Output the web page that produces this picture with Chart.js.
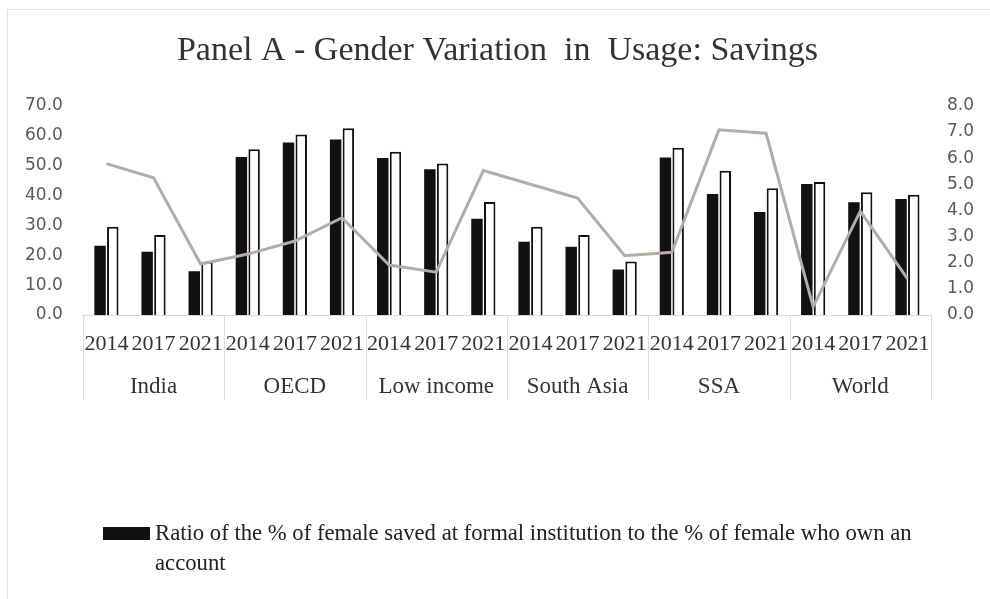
<!DOCTYPE html>
<html>
<head>
<meta charset="utf-8">
<script src="https://cdn.jsdelivr.net/npm/chart.js@4.4.1/dist/chart.umd.min.js"></script>
<style>
  html, body { margin: 0; padding: 0; background: #fff; }
  #wrap { position: relative; width: 990px; height: 599px; overflow: hidden; }
  #frame { position: absolute; left: 7px; top: 9px; width: 1000px; height: 600px;
           border-left: 1px solid #e2e2e2; border-top: 1px solid #e2e2e2; box-sizing: border-box; }
  canvas { position: absolute; left: 0; top: 0; }
  #legend { position: absolute; left: 103px; top: 518px; font-family: "Liberation Serif", serif;
            font-size: 22.7px; color: #222; line-height: 30px; }
  #legend .box { position: absolute; left: 0; top: 9px; width: 47px; height: 13px; background: #111; }
  #legend .txt { margin-left: 52px; white-space: nowrap; }
  #legend .txt2 { margin-left: 52px; }
</style>
</head>
<body>
<div id="wrap">
  <div id="frame"></div>
  <canvas id="c" width="990" height="599"></canvas>
  <div id="legend"><div class="box"></div><div class="txt">Ratio of the % of female saved at formal institution to the % of female who own an</div><div class="txt2">account</div></div>
</div>
<script>
const years = ['2014','2017','2021'];
const groups = ['India','OECD','Low income','South Asia','SSA','World'];
const yearLabels = ['2014','2017','2021','2014','2017','2021','2014','2017','2021','2014','2017','2021','2014','2017','2021','2014','2017','2021'];
const femaleSaved = [23.2, 21.2, 14.6, 52.9, 57.7, 58.7, 52.5, 48.8, 32.2, 24.5, 22.8, 15.2, 52.7, 40.5, 34.5, 43.8, 37.7, 38.8];
const maleSaved = [29.5, 26.8, 17.8, 55.5, 60.4, 62.5, 54.6, 50.7, 37.8, 29.5, 26.8, 17.9, 56.0, 48.3, 42.4, 44.5, 41.1, 40.2];
const gapRatio = [5.79, 5.25, 1.95, 2.33, 2.83, 3.72, 1.91, 1.64, 5.52, 5.0, 4.47, 2.27, 2.4, 7.08, 6.95, 0.31, 3.97, 1.39];
const leftTicks = [0, 10, 20, 30, 40, 50, 60, 70];
const rightTicks = [0, 1, 2, 3, 4, 5, 6, 7, 8];

const separators = {
  id: 'separators',
  afterDraw(chart) {
    const x = chart.scales.x, x2 = chart.scales.x2;
    const ctx = chart.ctx;
    ctx.save();
    ctx.strokeStyle = '#dcdcdc';
    ctx.lineWidth = 1;
    for (let g = 0; g <= groups.length; g++) {
      const px = Math.round(x.getPixelForValue(g * years.length - 0.5)) + 0.5;
      ctx.beginPath();
      ctx.moveTo(px, chart.chartArea.bottom);
      ctx.lineTo(px, x2.bottom - 1);
      ctx.stroke();
    }
    ctx.restore();
  }
};

new Chart(document.getElementById('c'), {
  data: {
    labels: yearLabels,
    datasets: [
      { type: 'line', label: 'Gap', data: gapRatio, yAxisID: 'y1', xAxisID: 'x',
        borderColor: '#b3aca7', borderWidth: 3, pointRadius: 0, tension: 0, order: 0 },
      { type: 'bar', label: 'Ratio of the % of female saved at formal institution to the % of female who own an account',
        data: femaleSaved, yAxisID: 'y', xAxisID: 'x', backgroundColor: '#111', borderColor: '#111', borderWidth: 0,
        categoryPercentage: 0.54, barPercentage: 0.9, order: 1 },
      { type: 'bar', label: 'Male', data: maleSaved, yAxisID: 'y', xAxisID: 'x',
        backgroundColor: '#fff', borderColor: '#111', borderWidth: 2,
        categoryPercentage: 0.54, barPercentage: 0.9, order: 1 }
    ]
  },
  options: {
    responsive: false,
    animation: false,
    layout: { padding: { left: 5, right: 0, top: 0, bottom: 198 } },
    plugins: {
      legend: { display: false },
      tooltip: { enabled: false },
      title: { display: true, text: 'Panel A - Gender Variation  in  Usage: Savings',
        font: { family: 'Liberation Serif', size: 34, weight: 'normal' }, color: '#333',
        padding: { top: 31, bottom: 34 } }
    },
    scales: {
      x: { type: 'category', position: 'bottom', offset: true,
        grid: { display: false, drawTicks: false }, border: { display: true, color: '#d9d9d9', width: 1 },
        ticks: { autoSkip: false, maxRotation: 0, minRotation: 0, padding: 16, color: '#333',
          font: { family: 'Liberation Serif', size: 22 } } },
      x2: { type: 'category', position: 'bottom', labels: groups, offset: true,
        grid: { display: false, drawTicks: false }, border: { display: false },
        ticks: { autoSkip: false, maxRotation: 0, padding: 0, color: '#333',
          font: { family: 'Liberation Serif', size: 23 } } },
      y: { position: 'left', min: 0, max: 70,
        afterBuildTicks: s => { s.ticks = leftTicks.map(v => ({ value: v })); },
        grid: { display: false, drawTicks: false }, border: { display: false },
        ticks: { autoSkip: false, padding: 20, color: '#595959', font: { family: 'DejaVu Sans', size: 17 },
          callback: v => Number(v).toFixed(1) } },
      y1: { position: 'right', min: 0, max: 8,
        afterBuildTicks: s => { s.ticks = rightTicks.map(v => ({ value: v })); },
        grid: { display: false, drawTicks: false }, border: { display: false },
        ticks: { autoSkip: false, padding: 16, color: '#595959', font: { family: 'DejaVu Sans', size: 17 },
          callback: v => Number(v).toFixed(1) } }
    }
  },
  plugins: [separators]
});
</script>
</body>
</html>
